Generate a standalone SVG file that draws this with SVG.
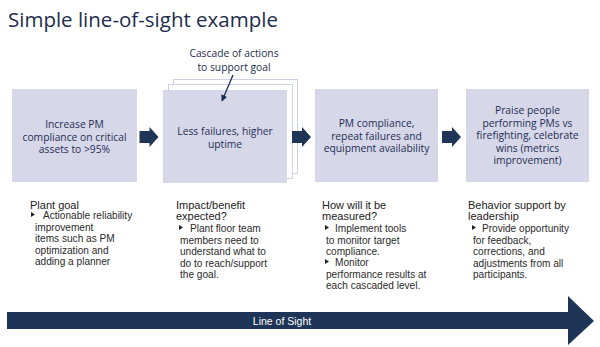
<svg xmlns="http://www.w3.org/2000/svg" width="600" height="347" viewBox="0 0 600 347">
<style>
.title{font-family:"Open Sans","Noto Sans",sans-serif;font-size:20.5px;fill:#1e2d4a}
.box{fill:#d6d8ea}
.sheet{fill:#ffffff;stroke:#d0d3e6;stroke-width:1}
.bt{font-family:"Open Sans","Noto Sans",sans-serif;font-size:10.3px;fill:#1e2d50;text-anchor:middle}
.ct{font-family:"Open Sans","Noto Sans",sans-serif;font-size:10.3px;fill:#1e2d4a;text-anchor:middle}
.dark{fill:#1f3557}
.hd{font-family:"Liberation Sans",Arial,sans-serif;font-size:11px;fill:#222}
.it{font-family:"Liberation Sans",Arial,sans-serif;font-size:10.1px;fill:#2a2a2a}
.los{font-family:"Liberation Sans",Arial,sans-serif;font-size:10.5px;fill:#ffffff;text-anchor:middle}
</style>
<defs>
<marker id="ah" viewBox="0 0 10 10" refX="9" refY="5" markerWidth="5" markerHeight="5" orient="auto">
<path d="M0,0 L10,5 L0,10 z" fill="#1e2d4a"/>
</marker>
<polygon id="blt" points="0,-7 4,-4.5 0,-2"/>
<polygon id="step" points="0,-6 10,-6 10,-10 19,0 10,10 10,6 0,6"/>
</defs>
<rect width="600" height="347" fill="#ffffff"/>
<text class="title" x="8" y="27">Simple line-of-sight example</text>

<g id="cascade-label">
<text class="ct" x="234" y="57">Cascade of actions</text>
<text class="ct" x="234" y="71">to support goal</text>
</g>

<g id="node-plant-goal">
<rect class="box" x="12" y="89" width="125" height="93"/>
<text class="bt" x="74.5" y="128">Increase PM</text>
<text class="bt" x="74.5" y="140.5">compliance on critical</text>
<text class="bt" x="74.5" y="153">assets to &gt;95%</text>
</g>

<g id="node-impact">
<rect class="sheet" x="173.5" y="79.5" width="124" height="94"/>
<rect class="sheet" x="168.5" y="84.5" width="124" height="94"/>
<rect class="box" x="163" y="90" width="124" height="93"/>
<text class="bt" x="225" y="135">Less failures, higher</text>
<text class="bt" x="225" y="147.5">uptime</text>
</g>

<g id="node-measured">
<rect class="box" x="315" y="89" width="123" height="93"/>
<text class="bt" x="376.5" y="127">PM compliance,</text>
<text class="bt" x="376.5" y="139.5">repeat failures and</text>
<text class="bt" x="376.5" y="152">equipment availability</text>
</g>

<g id="node-behavior">
<rect class="box" x="466" y="89" width="123" height="93"/>
<text class="bt" x="527.5" y="114">Praise people</text>
<text class="bt" x="527.5" y="126.5">performing PMs vs</text>
<text class="bt" x="527.5" y="139">firefighting, celebrate</text>
<text class="bt" x="527.5" y="151.5">wins (metrics</text>
<text class="bt" x="527.5" y="164">improvement)</text>
</g>

<g id="connectors">
<line x1="233" y1="75" x2="222" y2="101" stroke="#1e2d4a" stroke-width="1.3" marker-end="url(#ah)"/>
<use href="#step" class="dark" x="139.5" y="137"/>
<use href="#step" class="dark" x="292" y="137"/>
<use href="#step" class="dark" x="442" y="137"/>
</g>

<g id="desc-plant-goal">
<text class="hd" x="30" y="209">Plant goal</text>
<use href="#blt" fill="#222" x="31" y="219"/>
<text class="it" x="43" y="219">Actionable reliability</text>
<text class="it" x="35" y="230.5">improvement</text>
<text class="it" x="35" y="242">items such as PM</text>
<text class="it" x="35" y="253.5">optimization and</text>
<text class="it" x="35" y="265">adding a planner</text>
</g>

<g id="desc-impact">
<text class="hd" x="176" y="209">Impact/benefit</text>
<text class="hd" x="176" y="220">expected?</text>
<use href="#blt" fill="#222" x="179" y="232"/>
<text class="it" x="190" y="232">Plant floor team</text>
<text class="it" x="180" y="243.5">members need to</text>
<text class="it" x="180" y="255">understand what to</text>
<text class="it" x="180" y="266.5">do to reach/support</text>
<text class="it" x="180" y="278">the goal.</text>
</g>

<g id="desc-measured">
<text class="hd" x="322" y="209">How will it be</text>
<text class="hd" x="322" y="220">measured?</text>
<use href="#blt" fill="#222" x="325" y="232"/>
<text class="it" x="335" y="232">Implement tools</text>
<text class="it" x="326" y="243.5">to monitor target</text>
<text class="it" x="326" y="255">compliance.</text>
<use href="#blt" fill="#222" x="325" y="266"/>
<text class="it" x="335" y="266">Monitor</text>
<text class="it" x="326" y="277.5">performance results at</text>
<text class="it" x="326" y="289">each cascaded level.</text>
</g>

<g id="desc-behavior">
<text class="hd" x="468" y="209">Behavior support by</text>
<text class="hd" x="468" y="220">leadership</text>
<use href="#blt" fill="#222" x="472" y="232"/>
<text class="it" x="482" y="232">Provide opportunity</text>
<text class="it" x="473" y="243.5">for feedback,</text>
<text class="it" x="473" y="255">corrections, and</text>
<text class="it" x="473" y="266.5">adjustments from all</text>
<text class="it" x="473" y="278">participants.</text>
</g>

<g id="line-of-sight">
<polygon class="dark" points="7,312 568,312 568,296 594,321 568,345 568,329 7,329"/>
<text class="los" x="282" y="324.5">Line of Sight</text>
</g>
</svg>
